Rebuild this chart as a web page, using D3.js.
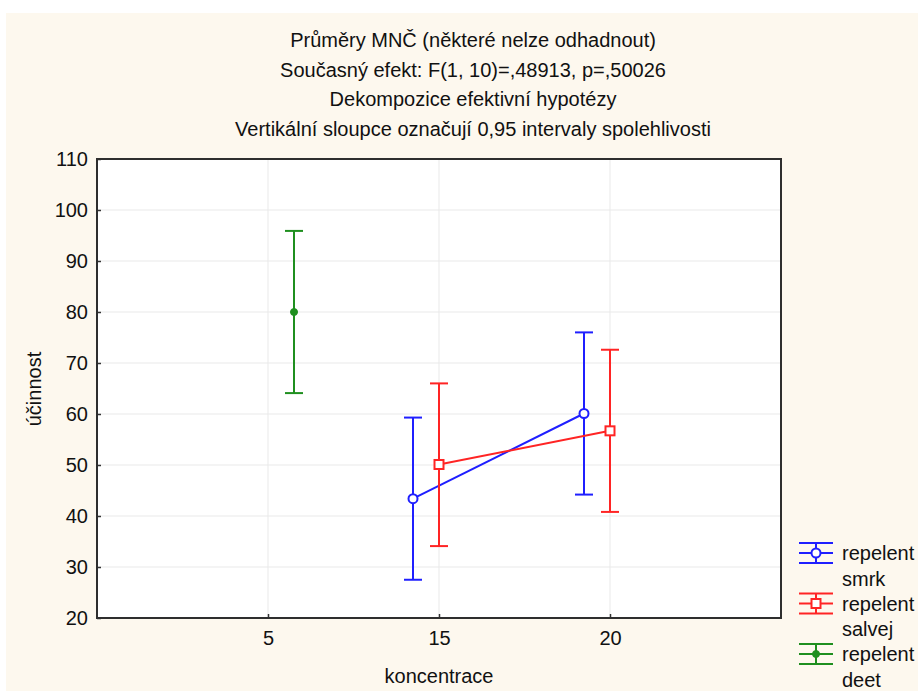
<!DOCTYPE html>
<html>
<head>
<meta charset="utf-8">
<script src="https://cdn.jsdelivr.net/npm/d3@7"></script>
<style>
  body { margin: 0; background: #fff; }
  svg { display: block; font-family: "Liberation Sans", Arial, sans-serif; }
</style>
</head>
<body>
<div id="chart"></div>
<script>
const titleLines = [
  "Průměry MNČ (některé nelze odhadnout)",
  "Současný efekt: F(1, 10)=,48913, p=,50026",
  "Dekompozice efektivní hypotézy",
  "Vertikální sloupce označují 0,95 intervaly spolehlivosti"
]
const categories = ["5", "15", "20"]
const yTicks = [20, 30, 40, 50, 60, 70, 80, 90, 100, 110]

const smrkConc = ["15", "20"]
const smrkMean = [43.4, 60.1]
const smrkLower = [27.5, 44.2]
const smrkUpper = [59.3, 76.0]

const salvejConc = ["15", "20"]
const salvejMean = [50.1, 56.7]
const salvejLower = [34.1, 40.8]
const salvejUpper = [66.0, 72.6]

const deetConc = ["5"]
const deetMean = [80.0]
const deetLower = [64.1]
const deetUpper = [95.9]

const WIDTH = 918, HEIGHT = 691
const PLOT = {LEFT: 97, TOP: 159, RIGHT: 781, BOTTOM: 618}
const FONT = 20

const series = [
  {name: ["repelent", "smrk"], color: "#1f1fff", marker: "circle", offset: -26,
   conc: smrkConc, mean: smrkMean, lower: smrkLower, upper: smrkUpper},
  {name: ["repelent", "salvej"], color: "#ff2424", marker: "square", offset: 0,
   conc: salvejConc, mean: salvejMean, lower: salvejLower, upper: salvejUpper},
  {name: ["repelent", "deet"], color: "#1f8f1f", marker: "dot", offset: 26,
   conc: deetConc, mean: deetMean, lower: deetLower, upper: deetUpper}
]

const svg = d3.select("#chart").append("svg")
  .attr("width", WIDTH).attr("height", HEIGHT)

svg.append("rect").attr("x", 6).attr("y", 13)
  .attr("width", WIDTH - 6).attr("height", HEIGHT - 13)
  .attr("fill", "#fdf8ee")

const x = d3.scalePoint()
  .domain(categories)
  .range([PLOT.LEFT, PLOT.RIGHT])
  .padding(1)

const y = d3.scaleLinear()
  .domain([20, 110])
  .range([PLOT.BOTTOM, PLOT.TOP])

// titles
svg.selectAll("text.title")
  .data(titleLines)
  .enter().append("text")
  .attr("class", "title")
  .attr("x", 473)
  .attr("y", (d, i) => 47 + i * 29.5)
  .attr("text-anchor", "middle")
  .attr("font-size", FONT)
  .attr("fill", "#111")
  .text(d => d)

// plot background
svg.append("rect")
  .attr("x", PLOT.LEFT).attr("y", PLOT.TOP)
  .attr("width", PLOT.RIGHT - PLOT.LEFT).attr("height", PLOT.BOTTOM - PLOT.TOP)
  .attr("fill", "#fff")

// grid
svg.append("g").selectAll("line")
  .data(yTicks.slice(1, -1))
  .enter().append("line")
  .attr("x1", PLOT.LEFT).attr("x2", PLOT.RIGHT)
  .attr("y1", d => y(d)).attr("y2", d => y(d))
  .attr("stroke", "#e9e9e9")
svg.append("g").selectAll("line")
  .data(categories)
  .enter().append("line")
  .attr("y1", PLOT.TOP).attr("y2", PLOT.BOTTOM)
  .attr("x1", d => x(d)).attr("x2", d => x(d))
  .attr("stroke", "#e9e9e9")

// axes
const xAxis = svg.append("g")
  .attr("transform", `translate(0,${PLOT.BOTTOM})`)
  .call(d3.axisBottom(x).tickSize(-4).tickPadding(13))
const yAxis = svg.append("g")
  .attr("transform", `translate(${PLOT.LEFT},0)`)
  .call(d3.axisLeft(y).tickValues(yTicks).tickSize(-4).tickPadding(9))
;[xAxis, yAxis].forEach(g => {
  g.select(".domain").remove()
  g.selectAll(".tick line").attr("stroke", "#333").attr("stroke-width", 1.5)
  g.selectAll(".tick text").attr("font-size", FONT).attr("fill", "#111")
    .attr("font-family", "Liberation Sans, Arial, sans-serif")
})

// frame
svg.append("rect")
  .attr("x", PLOT.LEFT).attr("y", PLOT.TOP)
  .attr("width", PLOT.RIGHT - PLOT.LEFT).attr("height", PLOT.BOTTOM - PLOT.TOP)
  .attr("fill", "none").attr("stroke", "#2e2e2e").attr("stroke-width", 2)

// axis titles
svg.append("text")
  .attr("x", (PLOT.LEFT + PLOT.RIGHT) / 2).attr("y", 683)
  .attr("text-anchor", "middle").attr("font-size", FONT).attr("fill", "#111")
  .text("koncentrace")
svg.append("text")
  .attr("transform", "translate(41,389) rotate(-90)")
  .attr("text-anchor", "middle").attr("font-size", FONT).attr("fill", "#111")
  .text("účinnost")

function drawMarker(g, type, color, cx, cy) {
  if (type === "circle") {
    g.append("circle").attr("cx", cx).attr("cy", cy).attr("r", 4.5)
      .attr("fill", "#fff").attr("stroke", color).attr("stroke-width", 2)
  } else if (type === "square") {
    g.append("rect").attr("x", cx - 4.5).attr("y", cy - 4.5)
      .attr("width", 9).attr("height", 9)
      .attr("fill", "#fff").attr("stroke", color).attr("stroke-width", 2)
  } else {
    g.append("circle").attr("cx", cx).attr("cy", cy).attr("r", 3.5)
      .attr("fill", color).attr("stroke", color).attr("stroke-width", 1)
  }
}

const CAP = 9
series.forEach(s => {
  const g = svg.append("g")
  const pts = s.conc.map((c, i) => ({
    cx: x(c) + s.offset, m: s.mean[i], lo: s.lower[i], hi: s.upper[i]
  }))
  if (pts.length > 1) {
    g.append("path")
      .datum(pts)
      .attr("d", d3.line().x(d => d.cx).y(d => y(d.m)))
      .attr("fill", "none").attr("stroke", s.color).attr("stroke-width", 2)
  }
  pts.forEach(p => {
    g.append("line").attr("x1", p.cx).attr("x2", p.cx)
      .attr("y1", y(p.lo)).attr("y2", y(p.hi))
      .attr("stroke", s.color).attr("stroke-width", 2)
    ;[p.lo, p.hi].forEach(v => {
      g.append("line").attr("x1", p.cx - CAP).attr("x2", p.cx + CAP)
        .attr("y1", y(v)).attr("y2", y(v))
        .attr("stroke", s.color).attr("stroke-width", 2)
    })
    drawMarker(g, s.marker, s.color, p.cx, y(p.m))
  })
})

// legend
series.forEach((s, i) => {
  const top = 543 + i * 50.5
  const g = svg.append("g")
  const cx = 816, cy = top + 10
  ;[top, top + 20, cy].forEach(v => {
    g.append("line").attr("x1", 799).attr("x2", 833)
      .attr("y1", v).attr("y2", v)
      .attr("stroke", s.color).attr("stroke-width", 2)
  })
  g.append("line").attr("x1", cx).attr("x2", cx)
    .attr("y1", top).attr("y2", top + 20)
    .attr("stroke", s.color).attr("stroke-width", 2)
  drawMarker(g, s.marker, s.color, cx, cy)
  s.name.forEach((t, j) => {
    g.append("text").attr("x", 842).attr("y", cy + 7 + j * 25.5)
      .attr("font-size", FONT).attr("fill", "#111").text(t)
  })
})
</script>
</body>
</html>
